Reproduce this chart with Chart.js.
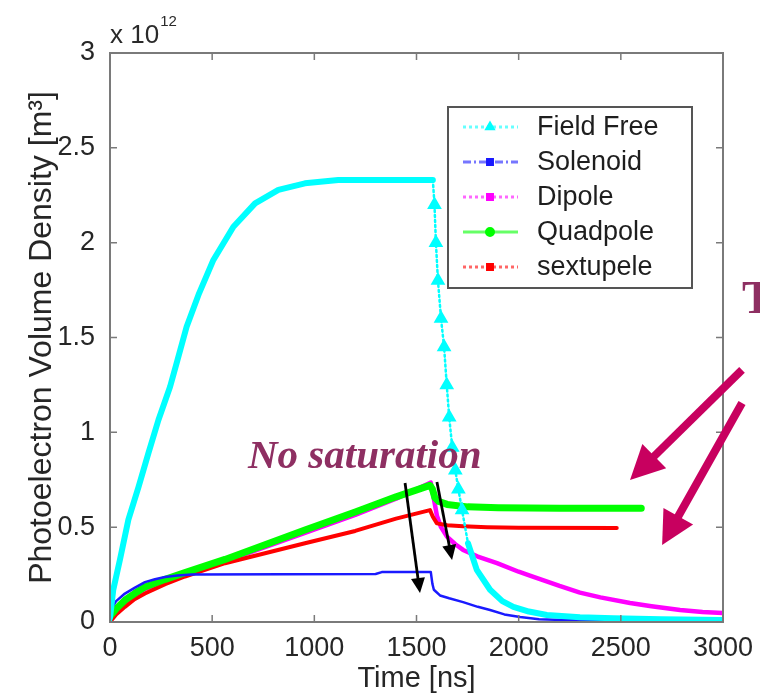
<!DOCTYPE html>
<html>
<head>
<meta charset="utf-8">
<script src="https://cdn.jsdelivr.net/npm/chart.js@4.4.0/dist/chart.umd.min.js"></script>
<style>
  html, body { margin: 0; padding: 0; background: #fff; }
</style>
</head>
<body>
<canvas id="chart" width="760" height="697"></canvas>
<script>
// values in units of 1e12 m^-3, time in ns
const ffTime = [0, 16, 49, 90, 139, 188, 237, 294, 330, 375, 436, 506, 604, 710, 824, 954, 1117, 1300, 1580,
  1588, 1595, 1605, 1620, 1635, 1648, 1660, 1675, 1690, 1705, 1723, 1752, 1795, 1860, 1920, 1974, 2050, 2138, 2300, 2463, 2700, 3000];
const ffVal = [0.02, 0.17, 0.33, 0.54, 0.71, 0.89, 1.065, 1.24, 1.38, 1.557, 1.733, 1.909, 2.084, 2.207, 2.278, 2.313, 2.33, 2.33, 2.33,
  2.2, 2.0, 1.8, 1.6, 1.45, 1.25, 1.08, 0.92, 0.8, 0.7, 0.59, 0.415, 0.275, 0.17, 0.11, 0.08, 0.055, 0.037, 0.025, 0.02, 0.015, 0.01];

const solTime = [0, 30, 73, 120, 171, 220, 269, 330, 400, 1300, 1330, 1570, 1578, 1585, 1615, 1660, 1728, 1800, 1860, 1930, 2007, 2100, 2217, 2580];
const solVal = [0.06, 0.11, 0.15, 0.18, 0.21, 0.225, 0.237, 0.245, 0.25, 0.253, 0.263, 0.263, 0.2, 0.17, 0.14, 0.125, 0.105, 0.08, 0.063, 0.04, 0.026, 0.015, 0.01, 0.008];

const dipTime = [0, 30, 73, 120, 171, 270, 367, 563, 954, 1200, 1400, 1570, 1585, 1600, 1620, 1649, 1690, 1728, 1800, 1894, 2000, 2055, 2200, 2300, 2400, 2545, 2650, 2790, 2900, 3000];
const dipVal = [0.02, 0.06, 0.1, 0.14, 0.175, 0.215, 0.25, 0.32, 0.47, 0.565, 0.65, 0.735, 0.65, 0.56, 0.5, 0.45, 0.41, 0.38, 0.345, 0.31, 0.265, 0.245, 0.19, 0.155, 0.13, 0.1, 0.083, 0.063, 0.053, 0.047];

const quadTime = [0, 30, 73, 120, 171, 270, 367, 563, 954, 1200, 1400, 1566, 1578, 1590, 1610, 1650, 1750, 1900, 2200, 2600];
const quadVal = [0.03, 0.07, 0.115, 0.15, 0.185, 0.225, 0.26, 0.33, 0.485, 0.58, 0.66, 0.72, 0.7, 0.655, 0.635, 0.62, 0.607, 0.603, 0.6, 0.6];

const sexTime = [0, 30, 73, 120, 171, 270, 367, 563, 954, 1200, 1400, 1566, 1580, 1600, 1650, 1728, 1845, 2000, 2480];
const sexVal = [0.0, 0.04, 0.08, 0.12, 0.15, 0.2, 0.24, 0.31, 0.415, 0.48, 0.545, 0.59, 0.555, 0.52, 0.51, 0.505, 0.5, 0.497, 0.495];

const seriesNames = ['Field Free', 'Solenoid', 'Dipole', 'Quadpole', 'sextupele'];
const xTickValues = [0, 500, 1000, 1500, 2000, 2500, 3000];
const yTickValues = [0, 0.5, 1, 1.5, 2, 2.5, 3];
const yTickLabels = ['0', '0.5', '1', '1.5', '2', '2.5', '3'];

const pairs = (t, v) => t.map((x, i) => ({ x: x, y: v[i] }));
// steep falling part of a line is drawn dotted
const steepFall = c => (c.p1.y - c.p0.y) > 4 * Math.abs(c.p1.x - c.p0.x);

const axisFont = { family: '"Liberation Sans", Arial, sans-serif', size: 27 };

// frame box with inward ticks on all four sides (matlab style)
const framePlugin = {
  id: 'frame',
  afterDraw(chart) {
    const { ctx, chartArea: a, scales } = chart;
    ctx.save();
    ctx.strokeStyle = '#7a7a7a';
    ctx.lineWidth = 2;
    ctx.strokeRect(a.left, a.top, a.right - a.left, a.bottom - a.top);
    ctx.lineWidth = 1.5;
    ctx.beginPath();
    xTickValues.forEach(v => {
      const px = scales.x.getPixelForValue(v);
      ctx.moveTo(px, a.bottom); ctx.lineTo(px, a.bottom - 7);
      ctx.moveTo(px, a.top); ctx.lineTo(px, a.top + 7);
    });
    yTickValues.forEach(v => {
      const py = scales.y.getPixelForValue(v);
      ctx.moveTo(a.left, py); ctx.lineTo(a.left + 7, py);
      ctx.moveTo(a.right, py); ctx.lineTo(a.right - 7, py);
    });
    ctx.stroke();

    // exponent label
    ctx.fillStyle = '#2a2a2a';
    ctx.textBaseline = 'alphabetic';
    ctx.font = '26px "Liberation Sans", Arial, sans-serif';
    ctx.fillText('x 10', a.left, a.top - 10);
    const w = ctx.measureText('x 10').width;
    ctx.font = '15px "Liberation Sans", Arial, sans-serif';
    ctx.fillText('12', a.left + w + 1, a.top - 27);
    ctx.restore();
  }
};

// boxed legend inside the plot
const legendPlugin = {
  id: 'boxLegend',
  afterDraw(chart) {
    const ctx = chart.ctx;
    const bx = 448, by = 107, bw = 244, bh = 181;
    ctx.save();
    ctx.fillStyle = '#fff';
    ctx.fillRect(bx, by, bw, bh);
    ctx.strokeStyle = '#555';
    ctx.lineWidth = 2;
    ctx.strokeRect(bx, by, bw, bh);
    const dashes = [[3, 3], [8, 3, 2, 3], [3, 3], [], [3, 3]];
    const marks = ['triangle', 'rect', 'rect', 'circle', 'rect'];
    chart.data.datasets.forEach((ds, i) => {
      const y = by + 20 + i * 35;
      ctx.strokeStyle = ds.borderColor;
      ctx.globalAlpha = 0.6;
      ctx.lineWidth = 3;
      ctx.setLineDash(dashes[i]);
      ctx.beginPath();
      ctx.moveTo(bx + 15, y); ctx.lineTo(bx + 70, y);
      ctx.stroke();
      ctx.setLineDash([]);
      ctx.globalAlpha = 1;
      ctx.fillStyle = ds.borderColor;
      Chart.helpers.drawPoint(ctx, { pointStyle: marks[i], radius: 3.5, borderWidth: 1 }, bx + 42, y);
      ctx.fill();
      ctx.fillStyle = '#1e1e1e';
      ctx.font = '27px "Liberation Sans", Arial, sans-serif';
      ctx.textBaseline = 'middle';
      ctx.fillText(ds.label, bx + 89, y + 1);
    });
    ctx.restore();
  }
};

function arrow(ctx, x1, y1, x2, y2, lw, headLen, headW, color) {
  const ang = Math.atan2(y2 - y1, x2 - x1);
  const bx = x2 - headLen * Math.cos(ang), by = y2 - headLen * Math.sin(ang);
  ctx.save();
  ctx.strokeStyle = color; ctx.fillStyle = color;
  ctx.lineWidth = lw;
  ctx.beginPath();
  ctx.moveTo(x1, y1); ctx.lineTo(bx + 2 * Math.cos(ang), by + 2 * Math.sin(ang));
  ctx.stroke();
  const nx = -Math.sin(ang) * headW / 2, ny = Math.cos(ang) * headW / 2;
  ctx.beginPath();
  ctx.moveTo(x2, y2);
  ctx.lineTo(bx + nx, by + ny);
  ctx.lineTo(bx - nx, by - ny);
  ctx.closePath();
  ctx.fill();
  ctx.restore();
}

// slide annotations, positioned in data units
const notePlugin = {
  id: 'notes',
  afterDraw(chart) {
    const { ctx, scales: { x, y } } = chart;
    const X = v => x.getPixelForValue(v), Y = v => y.getPixelForValue(v);
    ctx.save();
    ctx.fillStyle = '#8e2f62';
    ctx.textBaseline = 'alphabetic';
    ctx.font = 'italic bold 41px "Liberation Serif", "Times New Roman", serif';
    ctx.fillText('No saturation', X(675), Y(0.812));
    ctx.font = 'bold 46px "Liberation Serif", "Times New Roman", serif';
    ctx.fillText('T', X(3093), Y(1.629));
    ctx.restore();
    arrow(ctx, X(1444), Y(0.733), X(1517), Y(0.153), 2.8, 15, 14, '#000');
    arrow(ctx, X(1600), Y(0.738), X(1674), Y(0.327), 2.8, 15, 14, '#000');
    arrow(ctx, X(3093), Y(1.329), X(2545), Y(0.749), 8, 34, 34, '#c8005f');
    arrow(ctx, X(3093), Y(1.155), X(2702), Y(0.406), 8, 33, 34, '#c8005f');
  }
};

new Chart(document.getElementById('chart'), {
  type: 'line',
  data: {
    datasets: [
      {
        label: seriesNames[0], data: pairs(ffTime, ffVal), borderColor: '#00ffff', backgroundColor: '#00ffff',
        borderWidth: 6, order: 1, pointStyle: 'triangle',
        pointRadius: c => (ffTime[c.dataIndex] >= 1585 && ffTime[c.dataIndex] <= 1725) ? 2.5 : 0,
        segment: {
          borderWidth: c => steepFall(c) ? 2.5 : 6,
          borderDash: c => steepFall(c) ? [2, 3] : undefined
        }
      },
      { label: seriesNames[1], data: pairs(solTime, solVal), borderColor: '#1a1aff', borderWidth: 2.5, order: 2, pointRadius: 0 },
      { label: seriesNames[2], data: pairs(dipTime, dipVal), borderColor: '#ff00ff', borderWidth: 4.5, order: 5, pointRadius: 0 },
      { label: seriesNames[3], data: pairs(quadTime, quadVal), borderColor: '#00ff00', borderWidth: 7, order: 3, pointRadius: 0 },
      { label: seriesNames[4], data: pairs(sexTime, sexVal), borderColor: '#ff0000', borderWidth: 4, order: 4, pointRadius: 0 }
    ]
  },
  options: {
    responsive: false,
    devicePixelRatio: 1,
    animation: false,
    layout: { padding: { left: 0, right: 37, top: 53, bottom: 0 } },
    plugins: { legend: { display: false }, tooltip: { enabled: false } },
    elements: { line: { tension: 0, borderCapStyle: 'round', borderJoinStyle: 'round' } },
    scales: {
      x: {
        type: 'linear', min: 0, max: 3000,
        grid: { display: false }, border: { display: false },
        afterFit: s => { s.height = 75; },
        afterBuildTicks: s => { s.ticks = xTickValues.map(v => ({ value: v })); },
        ticks: { autoSkip: false, maxRotation: 0, padding: 2, color: '#262626', font: axisFont,
          callback: v => String(v) },
        title: { display: true, text: 'Time [ns]', color: '#262626', padding: { top: 0, bottom: 1 },
          font: { family: '"Liberation Sans", Arial, sans-serif', size: 29 } }
      },
      y: {
        min: 0, max: 3,
        grid: { display: false }, border: { display: false },
        afterFit: s => { s.width = 110; },
        afterBuildTicks: s => { s.ticks = yTickValues.map(v => ({ value: v })); },
        ticks: { padding: 7, color: '#262626', font: axisFont,
          callback: v => yTickLabels[yTickValues.indexOf(v)] },
        title: { display: true, text: 'Photoelectron Volume Density [m³]', color: '#262626', padding: { top: 23, bottom: 0 },
          font: { family: '"Liberation Sans", Arial, sans-serif', size: 32 } }
      }
    }
  },
  plugins: [framePlugin, legendPlugin, notePlugin]
});
</script>
</body>
</html>
